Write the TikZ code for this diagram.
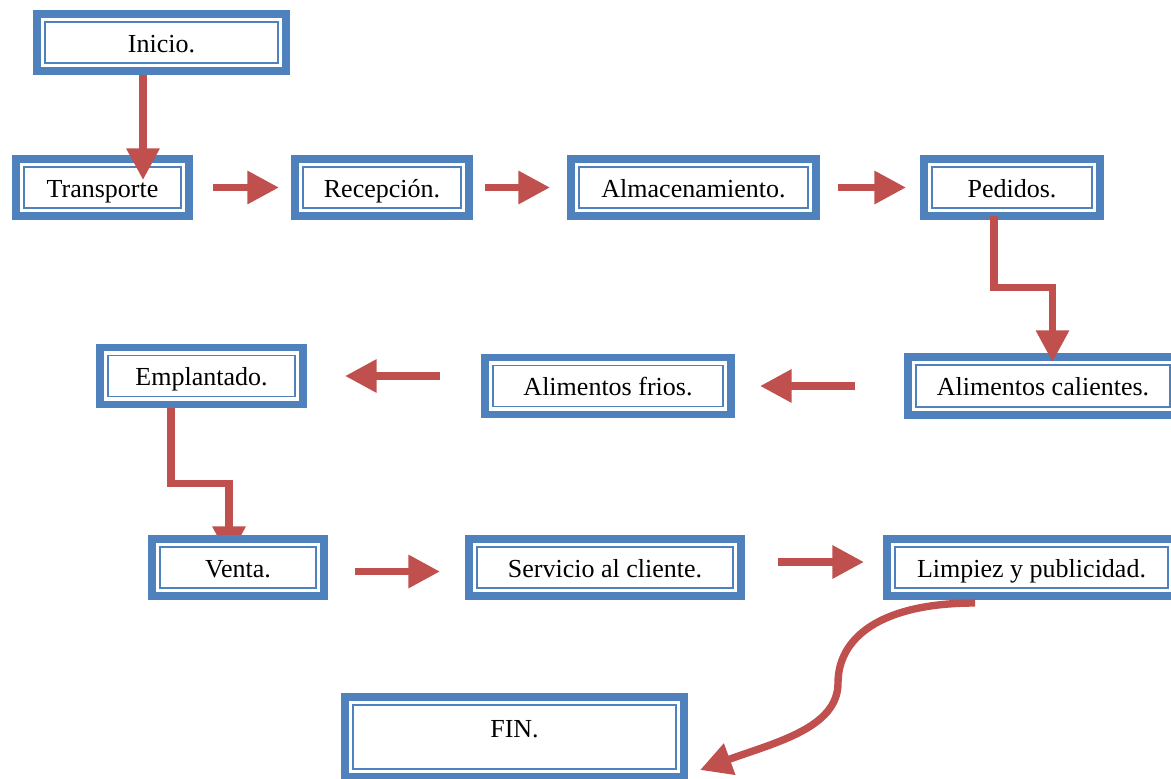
\documentclass[tikz,border=0pt]{standalone}
\usepackage{fontspec}
\setmainfont{Liberation Serif}
\usetikzlibrary{arrows.meta, positioning}
\definecolor{boxblue}{RGB}{79,129,189}
\definecolor{arrowred}{RGB}{192,80,77}
\pgfdeclarelayer{background}
\pgfsetlayers{background,main}
\tikzset{
    stage/.style={rectangle, draw=boxblue, line width=4.5pt, fill=white, inner sep=0pt, outer sep=0pt, minimum height=1.14cm,
        text height=11pt, text depth=0pt, font=\fontsize{14.8}{17}\selectfont,
        path picture={\draw[boxblue, line width=1.1pt] ([shift={(0.16cm,0.16cm)}]path picture bounding box.south west) rectangle ([shift={(-0.16cm,-0.16cm)}]path picture bounding box.north east);}},
    arrow/.style={line width=4.2pt, arrowred, -{Triangle[length=18pt, width=18pt]}}
}
\begin{document}
\begin{tikzpicture}
        \useasboundingbox (0,0) rectangle (23.42,-15.56);

        \node (Inicio) [stage, minimum width=4.98cm] at (3.23,-0.85) {Inicio.};

        % First row
        \node (Transporte) [stage, minimum width=3.46cm] at (2.05,-3.75) {Transporte};
        \node (Recepcion) [stage, minimum width=3.48cm, right=2.12cm of Transporte] {Recepción.};
        \node (Almacen) [stage, minimum width=4.9cm, right=2.04cm of Recepcion] {Almacenamiento.};
        \node (Pedidos) [stage, minimum width=3.52cm, right=2.16cm of Almacen] {Pedidos.};

        % Second row
        \node (Calientes) [stage, minimum width=5.4cm, minimum height=1.16cm] at (20.86,-7.72) {Alimentos calientes.};
        \node (Frios) [stage, minimum width=4.92cm, left=3.54cm of Calientes] {Alimentos frios.};
        \node (Emplantado) [stage, minimum width=4.06cm, left=3.64cm of Frios, yshift=0.2cm] {Emplantado.};

        % Third row
        \node (Venta) [stage, minimum width=3.44cm] at (4.76,-11.35) {Venta.};
        \node (Servicio) [stage, minimum width=5.44cm, right=2.9cm of Venta] {Servicio al cliente.};
        \node (Limpieza) [stage, minimum width=5.78cm, right=2.92cm of Servicio] {Limpiez y publicidad.};

        \node (Fin) [stage, minimum width=6.78cm, minimum height=1.6cm, text depth=10pt] at (10.29,-14.74) {FIN.};

        % Arrows
        \draw[arrow] ([xshift=-0.37cm, yshift=-0.08cm]Inicio.south) -- ([xshift=0.81cm, yshift=-0.42cm]Transporte.north);
        \draw[arrow] ([xshift=0.48cm]Transporte.east) -- ([xshift=-0.32cm]Recepcion.west);
        \draw[arrow] ([xshift=0.32cm]Recepcion.east) -- ([xshift=-0.42cm]Almacen.west);
        \draw[arrow] ([xshift=0.44cm]Almacen.east) -- ([xshift=-0.36cm]Pedidos.west);
        \draw[arrow] ([xshift=-0.36cm]Pedidos.south) -- ++(0,-1.43) -| ([xshift=0.19cm, yshift=-0.1cm]Calientes.north);

        \draw[arrow] ([xshift=-1.06cm]Calientes.west) -- ([xshift=0.58cm]Frios.east);
        \draw[arrow] ([xshift=-0.9cm]Frios.west |- Emplantado.east) -- ([xshift=0.84cm]Emplantado.east);
        \begin{pgfonlayer}{background}
            \draw[arrow] ([xshift=-0.61cm]Emplantado.south) -- ++(0,-1.58) -| ([xshift=-0.18cm, yshift=-0.38cm]Venta.north);
        \end{pgfonlayer}

        \draw[arrow] ([xshift=0.62cm, yshift=-0.08cm]Venta.east) -- ([xshift=-0.58cm, yshift=-0.08cm]Servicio.west);
        \draw[arrow] ([xshift=0.74cm, yshift=0.11cm]Servicio.east) -- ([xshift=-0.46cm, yshift=0.11cm]Limpieza.west);
        \draw[arrow] ([xshift=-1.13cm, yshift=-0.14cm]Limpieza.south) .. controls +(-1.9,0) and +(0,0.9) .. ++(-2.74,-1.6)
            .. controls +(0,-0.9) and +(1.5,0.55) .. ([xshift=0.32cm, yshift=-0.66cm]Fin.east);

    \end{tikzpicture}
\end{document}
